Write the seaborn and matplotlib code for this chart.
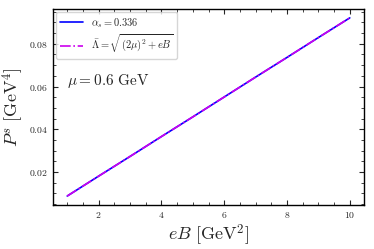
import matplotlib
matplotlib.use("Agg")
import matplotlib.pyplot as plt
import seaborn as sns
import numpy as np
import pandas as pd

eB = [1, 2, 3, 4, 5, 6, 7, 8, 9, 10]
P_alpha = [0.0088, 0.0181, 0.0273, 0.0366, 0.0458, 0.0551, 0.0644, 0.0736, 0.0829, 0.0921]
P_lambda = [0.0088, 0.0181, 0.0273, 0.0366, 0.0458, 0.0551, 0.0644, 0.0736, 0.0829, 0.0921]
labels = [r'$\alpha_s = 0.336$', r'$\bar{\Lambda} = \sqrt{(2\mu)^2 + eB}$']

sns.set_style("ticks")
plt.rcParams['font.family'] = ['serif']
plt.rcParams['font.serif'] = ['DejaVu Serif']
plt.rcParams['mathtext.fontset'] = 'cm'

fig, ax = plt.subplots(figsize=(3.74, 2.49), dpi=100)
sns.lineplot(x=eB, y=P_alpha, ax=ax, color='blue', lw=1.2, label=labels[0])
sns.lineplot(x=eB, y=P_lambda, ax=ax, color='#cc00ee', lw=1.2, linestyle='-.', label=labels[1])

ax.set_xticks([2, 4, 6, 8, 10])
ax.set_yticks([0.02, 0.04, 0.06, 0.08])
ax.set_xticklabels([r'$2$', r'$4$', r'$6$', r'$8$', r'$10$'])
ax.set_yticklabels([r'$0.02$', r'$0.04$', r'$0.06$', r'$0.08$'])
ax.minorticks_on()
ax.tick_params(which='both', direction='in', top=True, right=True, labelsize=7)
ax.tick_params(which='major', length=3.5, width=0.8)
ax.tick_params(which='minor', length=2, width=0.6)
for s in ax.spines.values():
    s.set_linewidth(1.0)
    s.set_color('black')

ax.set_xlabel(r'$eB\ [\mathrm{GeV}^2]$', fontsize=13, labelpad=2)
ax.set_ylabel(r'$P^s\ [\mathrm{GeV}^4]$', fontsize=13, labelpad=2)
ax.text(0.045, 0.63, r'$\mu = 0.6\ \mathrm{GeV}$', transform=ax.transAxes, fontsize=11, va='center')

leg = ax.legend(loc='upper left', fontsize=7.5, frameon=True, handlelength=2.2,
                borderaxespad=0.3, fancybox=True, framealpha=0.8, labelspacing=0.3,
                borderpad=0.35)

fig.subplots_adjust(left=0.142, right=0.973, top=0.964, bottom=0.177)
fig.savefig('out.png', dpi=100)
